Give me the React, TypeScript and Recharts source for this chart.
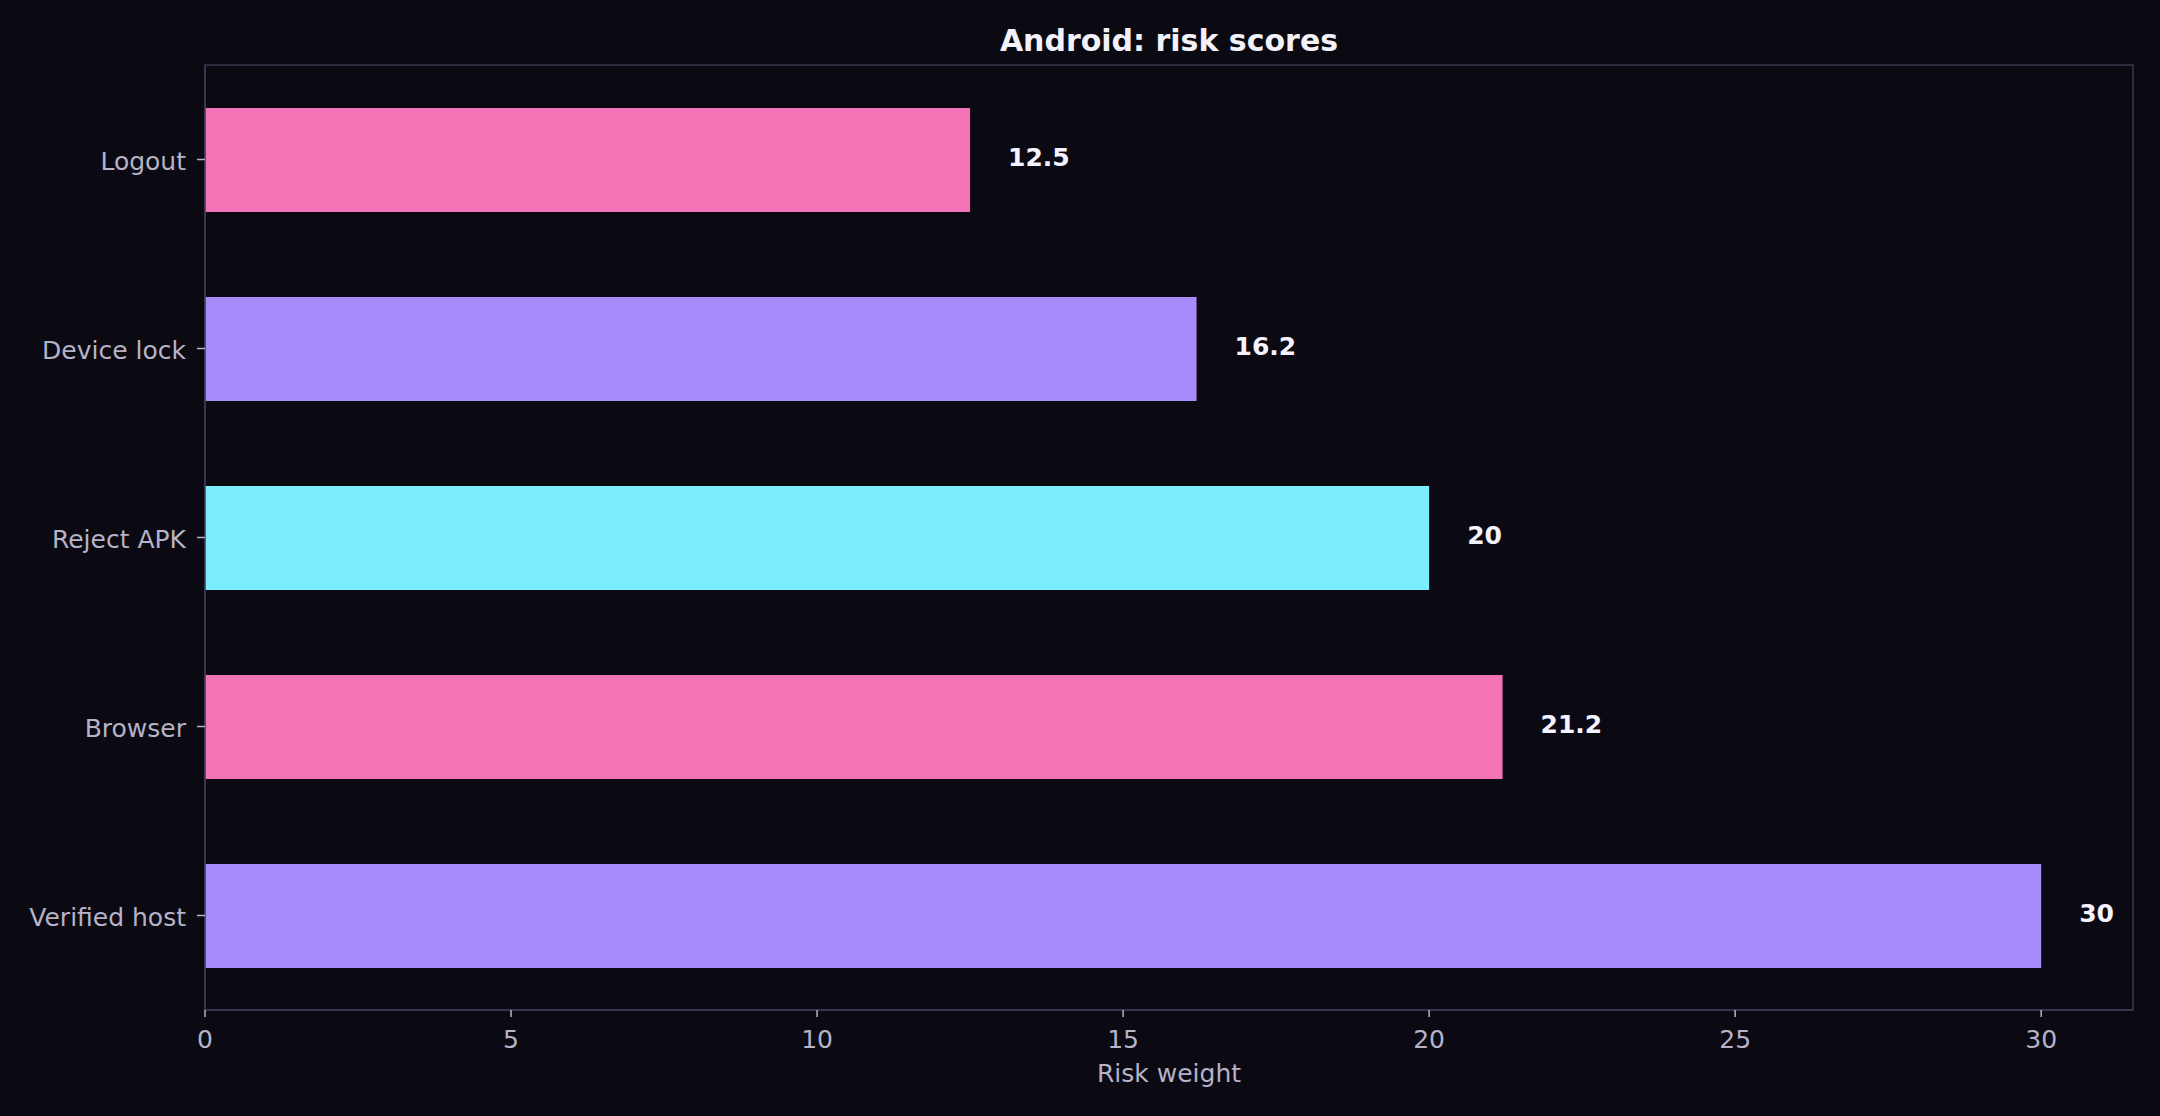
import React from "react";
import { BarChart, Bar, XAxis, YAxis, Cell, LabelList, ReferenceArea, Label } from "recharts";

const categories = ["Logout", "Device lock", "Reject APK", "Browser", "Verified host"];
const riskValues = [12.5, 16.2, 20, 21.2, 30];
const barColors = ["#f472b6", "#a78bfa", "#7aedff", "#f472b6", "#a78bfa"];
const xTicks = [0, 5, 10, 15, 20, 25, 30];

const data = categories.map((name, i) => ({ name, value: riskValues[i] }));

const BG = "#0b0a12";
const SPINE = "#3a3850";
const TICK = "#b6b2c8";
const FONT = "'DejaVu Sans', sans-serif";

const YTick = (props: any) => {
  const { x, y, payload } = props;
  return (
    <text x={x} y={y + 1.5} dy="0.355em" textAnchor="end" fill={TICK} fontSize={25} fontFamily={FONT}>
      {payload.value}
    </text>
  );
};

export default function App() {
  return (
    <div style={{ position: "absolute", left: 0, top: 0, width: 2160, height: 1116, background: BG, fontFamily: FONT }}>
      <div
        style={{
          position: "absolute",
          left: 205,
          width: 1928,
          top: 23,
          textAlign: "center",
          fontSize: 30,
          fontWeight: "bold",
          color: "#f3f1fa",
          fontFamily: FONT,
        }}
      >
        Android: risk scores
      </div>
      <BarChart
        width={2160}
        height={1116}
        data={data}
        layout="vertical"
        margin={{ top: 65, right: 27, bottom: 0, left: 0 }}
        style={{ position: "absolute", left: 0, top: 0 }}
      >
        <XAxis
          type="number"
          domain={[0, 31.5]}
          ticks={xTicks}
          allowDataOverflow
          height={106}
          tick={{ fill: TICK, fontSize: 25, fontFamily: FONT }}
          tickLine={{ stroke: TICK, strokeWidth: 1.5 }}
          tickSize={7}
          tickMargin={13}
          axisLine={{ stroke: SPINE, strokeWidth: 1.5 }}
        >
          <Label value="Risk weight" position="insideBottom" offset={34} fill={TICK} fontSize={25} fontFamily={FONT} />
        </XAxis>
        <YAxis
          type="category"
          dataKey="name"
          width={205}
          tick={<YTick />}
          tickLine={{ stroke: TICK, strokeWidth: 1.5 }}
          tickSize={8}
          tickMargin={11}
          axisLine={{ stroke: SPINE, strokeWidth: 1.5 }}
        />
        <Bar dataKey="value" barSize={104} isAnimationActive={false}>
          {data.map((d, i) => (
            <Cell key={d.name} fill={barColors[i]} />
          ))}
          <LabelList
            dataKey="value"
            position="right"
            offset={38}
            dy={-3}
            fill="#f5f3ff"
            fontSize={25}
            fontWeight="bold"
            fontFamily={FONT}
          />
        </Bar>
        <ReferenceArea x1={0} x2={31.5} fill="none" stroke={SPINE} strokeWidth={1.5} ifOverflow="visible" />
      </BarChart>
    </div>
  );
}
